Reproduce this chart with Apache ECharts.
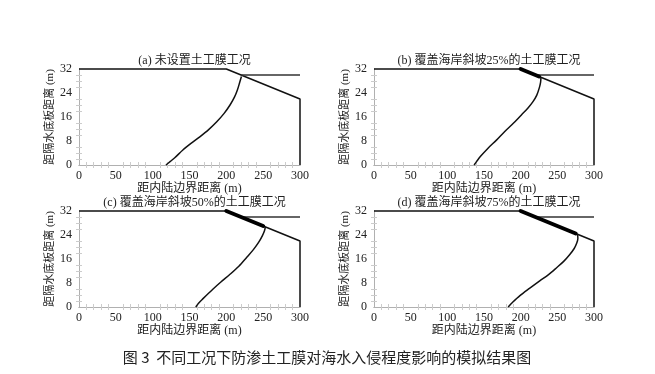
<!DOCTYPE html>
<html><head><meta charset="utf-8">
<script src="https://cdn.jsdelivr.net/npm/echarts@6/dist/echarts.min.js"></script>
<style>html,body{margin:0;padding:0;background:#fff}#c{width:655px;height:374px}</style>
</head><body><div id="c"></div>
<script>
// ---- data ----
const panelTitles = ['(a) 未设置土工膜工况','(b) 覆盖海岸斜坡25%的土工膜工况','(c) 覆盖海岸斜坡50%的土工膜工况','(d) 覆盖海岸斜坡75%的土工膜工况'];
const xTicks = [0,50,100,150,200,250,300];
const yTicks = [0,8,16,24,32];
const xName = '距内陆边界距离 (m)';
const yName = '距隔水底板距离 (m)';
const caption = '图 3  不同工况下防渗土工膜对海水入侵程度影响的模拟结果图';
// domain boundary (top surface, coastal slope, sea-side boundary)
const boundary = [[0,32],[200,32],[300,22],[300,0]];
// sea level
const seaLevel = [[220,30],[300,30]];
// geomembrane segments
const membraneA = [];
const membraneB = [[200,32],[225,29.5]];
const membraneC = [[200,32],[250,27]];
const membraneD = [[200,32],[275,24.5]];
// saltwater wedge interface
const wedgeA = [[118,0],[124,1.2],[130,2.4],[141,5],[152,7.2],[164,9.4],[176,11.8],[187,14.4],[197,17.2],[205,20],[211,22.6],[215,25],[218,27.4],[220.5,29.5]];
const wedgeB = [[136.5,0],[140,1.2],[145,2.8],[155.5,5.6],[167,8.3],[178,11.1],[190,13.9],[201,16.7],[210,19],[216.8,21.1],[222,23.3],[225.5,25.8],[227.2,27.6],[227.6,29.2]];
const wedgeC = [[158.5,0],[162,1.2],[168,2.7],[182,6],[193,8.4],[205,10.9],[217,13.6],[227.5,16.5],[237,19.2],[244,21.6],[249,23.8],[251.8,25.4],[253,26.7]];
const wedgeD = [[183,0],[185.5,0.7],[189,1.6],[199,3.8],[212,6.2],[226,8.7],[238,10.8],[249,13.1],[259,15.3],[267,17.5],[273,19.5],[276.5,21.3],[278,22.8],[277.6,24.3]];

const membranes = [membraneA,membraneB,membraneC,membraneD];
const wedges = [wedgeA,wedgeB,wedgeC,wedgeD];

// ---- layout ----
const grids = [
  {left:79, top:69, width:221, height:96},
  {left:374, top:69, width:220, height:96},
  {left:79, top:211, width:221, height:96},
  {left:374, top:211, width:220, height:96}
];
const serif = '"Liberation Serif","Times New Roman","Noto Sans CJK SC",serif';
const axisGray = '#b0b0b0';

const option = {
  backgroundColor:'#fff',
  animation:false,
  title: panelTitles.map((t,i)=>({
    text:t, left: grids[i].left + grids[i].width/2, top: grids[i].top - 19, textAlign:'center',
    textStyle:{fontFamily:serif, fontSize:12, fontWeight:'normal', color:'#222'}
  })).concat([{
    text: caption, left: 322, top: 345, textAlign:'center',
    textStyle:{fontFamily:'"Noto Sans CJK SC",sans-serif', fontSize:15, fontWeight:'normal', color:'#222'}
  }]),
  grid: grids,
  xAxis: [], yAxis: [], series: []
};

grids.forEach((g,i)=>{
  const xMin = xTicks[0], xMax = xTicks[xTicks.length-1], xInt = xTicks[1]-xTicks[0];
  const yMin = yTicks[0], yMax = yTicks[yTicks.length-1], yInt = yTicks[1]-yTicks[0];
  option.xAxis.push({
    type:'value', gridIndex:i, min:xMin, max:xMax, interval:xInt, position:'bottom',
    name:xName, nameLocation:'middle', nameGap:14,
    nameTextStyle:{fontFamily:serif, fontSize:12, color:'#222'},
    axisLine:{show:true, lineStyle:{color:axisGray, width:1}},
    axisTick:{show:false},
    minorTick:{show:true, splitNumber:5, length:3, lineStyle:{color:'#ccc'}},
    axisLabel:{fontFamily:serif, fontSize:12, color:'#222', margin:5},
    splitLine:{show:false}
  });
  option.xAxis.push({
    type:'value', gridIndex:i, min:xMin, max:xMax, interval:xInt, position:'top',
    axisLine:{show:true, lineStyle:{color:axisGray, width:1}},
    axisTick:{show:false}, axisLabel:{show:false},
    minorTick:{show:true, splitNumber:5, length:3, lineStyle:{color:'#ccc'}},
    splitLine:{show:false}
  });
  option.yAxis.push({
    type:'value', gridIndex:i, min:yMin, max:yMax, interval:yInt, position:'left',
    name:yName, nameLocation:'middle', nameGap:17, nameRotate:90,
    nameTextStyle:{fontFamily:serif, fontSize:11, color:'#222'},
    axisLine:{show:true, lineStyle:{color:axisGray, width:1}},
    axisTick:{show:false},
    minorTick:{show:true, splitNumber:4, length:3, lineStyle:{color:'#ccc'}},
    axisLabel:{fontFamily:serif, fontSize:12, color:'#222', margin:7},
    splitLine:{show:false}
  });
  option.yAxis.push({
    type:'value', gridIndex:i, min:yMin, max:yMax, interval:yInt, position:'right',
    axisLine:{show:true, lineStyle:{color:axisGray, width:1}},
    axisTick:{show:false}, axisLabel:{show:false},
    minorTick:{show:true, splitNumber:4, length:3, lineStyle:{color:'#ccc'}},
    splitLine:{show:false}
  });
  const xi = i*2, yi = i*2;
  option.series.push({
    type:'line', xAxisIndex:xi, yAxisIndex:yi, data:boundary, showSymbol:false, clip:false,
    lineStyle:{color:'#111', width:1.5}
  });
  option.series.push({
    type:'line', xAxisIndex:xi, yAxisIndex:yi, data:seaLevel, showSymbol:false, clip:false,
    lineStyle:{color:'#333', width:1.3}
  });
  if (membranes[i].length) option.series.push({
    type:'line', xAxisIndex:xi, yAxisIndex:yi, data:membranes[i], showSymbol:false, clip:false,
    lineStyle:{color:'#000', width:4, cap:'round'}
  });
  option.series.push({
    type:'line', xAxisIndex:xi, yAxisIndex:yi, data:wedges[i], showSymbol:false, clip:false,
    smooth:0.3, lineStyle:{color:'#111', width:1.5}
  });
});

const chart = echarts.init(document.getElementById('c'), null, {renderer:'canvas'});
chart.setOption(option);
</script></body></html>
